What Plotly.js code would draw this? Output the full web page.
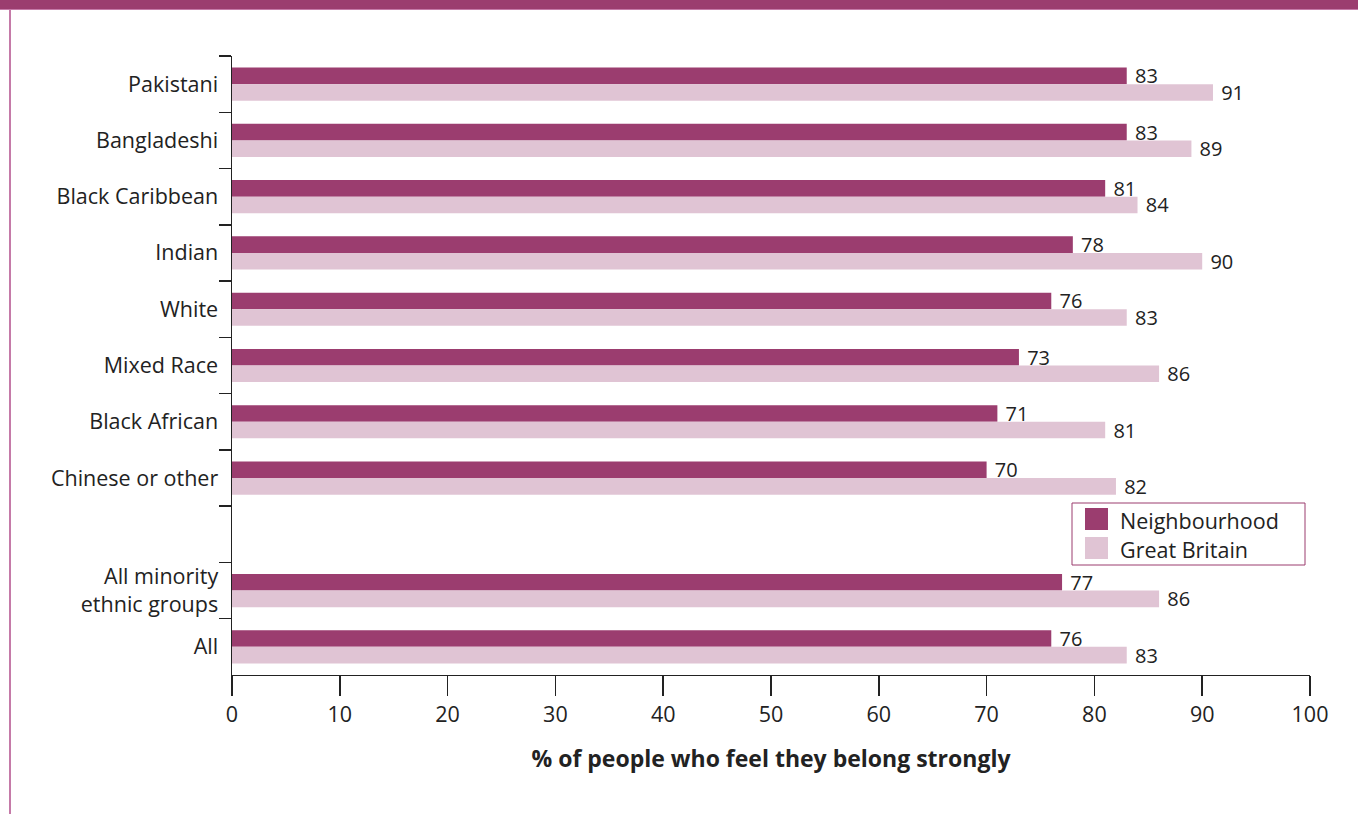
<!DOCTYPE html>
<html>
<head>
<meta charset="utf-8">
<script src="https://cdn.plot.ly/plotly-3.0.1.min.js"></script>
<style>
  html, body { margin: 0; padding: 0; background: #fff; }
  #wrap { position: relative; width: 1358px; height: 814px; overflow: hidden; }
  #band { position: absolute; left: 0; top: 0; width: 1358px; height: 9px; background: #9b3d6f; border-bottom: 1px solid #c57aa8; }
  #lline { position: absolute; left: 9px; top: 9px; width: 2px; height: 805px; background: #c57aa8; }
  #chart { position: absolute; left: 0; top: 0; width: 1358px; height: 814px; }
</style>
</head>
<body>
<div id="wrap">
  <div id="chart"></div>
  <div id="band"></div>
  <div id="lline"></div>
</div>
<script>
const categories = ["Pakistani", "Bangladeshi", "Black Caribbean", "Indian", "White", "Mixed Race", "Black African", "Chinese or other", " ", "All minority<br>ethnic groups", "All"];
const neighbourhood = [83, 83, 81, 78, 76, 73, 71, 70, null, 77, 76];
const greatBritain = [91, 89, 84, 90, 83, 86, 81, 82, null, 86, 83];
const xTicks = [0, 10, 20, 30, 40, 50, 60, 70, 80, 90, 100];
const seriesNames = ["Neighbourhood", "Great Britain"];
const colors = ["#9b3d6f", "#e0c4d4"];

const FONT = "'Open Sans', 'Noto Sans', sans-serif";
const W = 1358, H = 814;
const M = {l: 232, r: 48, t: 56, b: 139};
const pw = W - M.l - M.r, ph = H - M.t - M.b;
const px = x => (x - M.l) / pw;
const py = y => (H - M.b - y) / ph;

function lbl(arr) { return arr.map(v => v == null ? "" : " " + String(v)); }

const traces = [
  {type: "bar", orientation: "h", name: seriesNames[0], y: categories, x: neighbourhood,
   marker: {color: colors[0]}, text: lbl(neighbourhood), textposition: "outside",
   textfont: {family: FONT, size: 20, color: "#222"}, cliponaxis: false, constraintext: "none", hoverinfo: "x+y"},
  {type: "bar", orientation: "h", name: seriesNames[1], y: categories, x: greatBritain,
   marker: {color: colors[1]}, text: lbl(greatBritain), textposition: "outside",
   textfont: {family: FONT, size: 20, color: "#222"}, cliponaxis: false, constraintext: "none", hoverinfo: "x+y"}
];

// custom legend box
const lg = {x0: 1072, x1: 1305, y0: 503, y1: 565};
const shapes = [
  {type: "rect", xref: "paper", yref: "paper", x0: px(lg.x0), x1: px(lg.x1), y0: py(lg.y1), y1: py(lg.y0),
   line: {color: "#9b3d6f", width: 1}, fillcolor: "#fff", layer: "above"},
  {type: "rect", xref: "paper", yref: "paper", x0: px(1085), x1: px(1108), y0: py(530), y1: py(508),
   line: {width: 0}, fillcolor: colors[0], layer: "above"},
  {type: "rect", xref: "paper", yref: "paper", x0: px(1085), x1: px(1108), y0: py(559), y1: py(537),
   line: {width: 0}, fillcolor: colors[1], layer: "above"}
];
const annotations = [
  {xref: "paper", yref: "paper", x: px(1118), y: py(520), xanchor: "left", yanchor: "middle", showarrow: false,
   text: seriesNames[0], font: {family: FONT, size: 21.5, color: "#222"}},
  {xref: "paper", yref: "paper", x: px(1118), y: py(549), xanchor: "left", yanchor: "middle", showarrow: false,
   text: seriesNames[1], font: {family: FONT, size: 21.5, color: "#222"}}
];

const layout = {
  width: W, height: H,
  margin: M,
  paper_bgcolor: "#fff", plot_bgcolor: "#fff",
  barmode: "group", bargap: 0.41, bargroupgap: 0,
  showlegend: false,
  font: {family: FONT, size: 21.5, color: "#222"},
  xaxis: {
    range: [0, 100], tickvals: xTicks, ticktext: xTicks.map(String),
    showgrid: false, zeroline: false, showline: true, linecolor: "#222", linewidth: 1,
    ticks: "outside", ticklen: 20, tickcolor: "#222", tickwidth: 1.5,
    tickfont: {family: FONT, size: 21.5, color: "#222"},
    title: {text: "<b>% of people who feel they belong strongly</b>", font: {family: FONT, size: 23, color: "#222"}, standoff: 24},
    fixedrange: true
  },
  yaxis: {
    type: "category", categoryorder: "array", categoryarray: categories, autorange: "reversed",
    showgrid: false, zeroline: false, showline: true, linecolor: "#222", linewidth: 1.5,
    ticks: "outside", tickson: "boundaries", ticklen: 12, tickcolor: "#222", tickwidth: 1.5,
    tickfont: {family: FONT, size: 21.5, color: "#222"},
    ticklabelstandoff: 8,
    fixedrange: true
  },
  shapes: shapes,
  annotations: annotations
};

Plotly.newPlot("chart", traces, layout, {displayModeBar: false, staticPlot: true});
</script>
</body>
</html>
